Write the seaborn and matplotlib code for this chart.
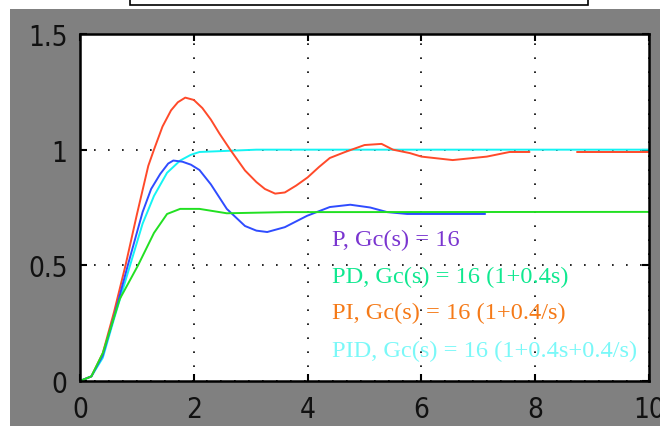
import numpy as np
import pandas as pd
import matplotlib
matplotlib.use("Agg")
import matplotlib.pyplot as plt
from matplotlib.patches import Rectangle
import seaborn as sns
from matplotlib import font_manager

# ---- data ----
p_t = [0, 0.2, 0.4, 0.6, 0.84, 1.1, 1.25, 1.41, 1.55, 1.64, 1.8, 1.95, 2.1, 2.3, 2.58, 2.9, 3.1, 3.29, 3.6, 3.99, 4.39, 4.75, 5.1, 5.4, 5.75, 7.12]
p_v = [0, 0.02, 0.11, 0.28, 0.5, 0.73, 0.83, 0.895, 0.94, 0.953, 0.948, 0.935, 0.912, 0.85, 0.744, 0.67, 0.65, 0.644, 0.665, 0.714, 0.752, 0.762, 0.75, 0.73, 0.722, 0.722]

pd_t = [0, 0.2, 0.4, 0.7, 1.02, 1.3, 1.53, 1.76, 2.1, 2.58, 3.6, 10]
pd_v = [0, 0.02, 0.12, 0.355, 0.5, 0.64, 0.722, 0.744, 0.744, 0.725, 0.73, 0.731]

pi_t = [0, 0.2, 0.4, 0.6, 0.8, 1.0, 1.2, 1.3, 1.45, 1.6, 1.72, 1.85, 2.0, 2.15, 2.3, 2.45, 2.64, 2.9, 3.1, 3.25, 3.43, 3.6, 3.8, 4.0,
        4.2, 4.39, 4.66, 5.0, 5.3, 5.5, 5.8, 6.0, 6.55, 7.15, 7.55, 7.9, 8.73, 10]
pi_v = [0, 0.02, 0.12, 0.3, 0.5, 0.72, 0.93, 1.0, 1.1, 1.17, 1.205, 1.225, 1.215, 1.18, 1.13, 1.07, 1.0, 0.91, 0.86, 0.83, 0.81, 0.815, 0.845, 0.88,
        0.925, 0.964, 0.99, 1.02, 1.025, 1.0, 0.985, 0.97, 0.955, 0.97, 0.99, 0.99, 0.988, 0.988]
pi_seg = [0] * 36 + [1] * 2

pid_t = [0, 0.2, 0.4, 0.6, 0.88, 1.1, 1.3, 1.53, 1.76, 1.95, 2.1, 2.6, 3.1, 10]
pid_v = [0, 0.02, 0.1, 0.27, 0.5, 0.68, 0.8, 0.90, 0.953, 0.978, 0.99, 0.995, 1.0, 1.0]

labels = ["P, Gc(s) = 16", "PD, Gc(s) = 16 (1+0.4s)", "PI, Gc(s) = 16 (1+0.4/s)", "PID, Gc(s) = 16 (1+0.4s+0.4/s)"]
label_colors = ["#7a35d0", "#10e890", "#f57a18", "#7af8f8"]
x_ticks = [0, 2, 4, 6, 8, 10]
y_ticks = [0, 0.5, 1, 1.5]
y_tick_labels = ["0", "0.5", "1", "1.5"]

sns.set_theme(style="white")

W, H = 660, 427
fig = plt.figure(figsize=(W / 100, H / 100), dpi=100)
fig.patch.set_facecolor("white")
# grey window background
fig.patches.append(Rectangle((10 / W, 0), 1 - 10 / W, (H - 10) / H, transform=fig.transFigure,
                             facecolor="#808080", edgecolor="none", zorder=-10))
# partial framed box at the top
fig.patches.append(Rectangle((130 / W, (H - 6) / H), (588 - 130) / W, 20 / H, transform=fig.transFigure,
                             facecolor="white", edgecolor="black", linewidth=1.2, zorder=-10))

ax = fig.add_axes([80 / W, (H - 382) / H, (649 - 80) / W, (382 - 35) / H])
ax.set_zorder(5)
ax.set_facecolor("white")

df_p = pd.DataFrame({"t": p_t, "v": p_v})
df_pd = pd.DataFrame({"t": pd_t, "v": pd_v})
df_pi = pd.DataFrame({"t": pi_t, "v": pi_v, "seg": pi_seg})
df_pid = pd.DataFrame({"t": pid_t, "v": pid_v})

lw = 1.4
sns.lineplot(data=df_pid, x="t", y="v", estimator=None, sort=False, color="#14f4f4", lw=lw, ax=ax)
sns.lineplot(data=df_pi, x="t", y="v", units="seg", estimator=None, sort=False, color="#ff4a2a", lw=lw, ax=ax)
sns.lineplot(data=df_p, x="t", y="v", estimator=None, sort=False, color="#2f4cff", lw=lw, ax=ax)
sns.lineplot(data=df_pd, x="t", y="v", estimator=None, sort=False, color="#22e022", lw=lw, ax=ax)

ax.set_xlim(0, 10)
ax.set_ylim(0, 1.5)
ax.set_xlabel("")
ax.set_ylabel("")
ax.set_xticks(x_ticks)
ax.set_yticks(y_ticks)
ax.set_yticklabels(y_tick_labels)
for lbl in ax.get_xticklabels() + ax.get_yticklabels():
    lbl.set_fontfamily("DejaVu Sans")
    lbl.set_fontstretch("condensed")
    lbl.set_fontsize(20)
    lbl.set_color("#111111")
ax.tick_params(axis="both", direction="in", length=5, width=1.5, color="black",
               top=True, right=True, bottom=True, left=True)
ax.tick_params(axis="x", pad=10)
ax.tick_params(axis="y", pad=9)

ax.grid(True, color="black", linestyle=(0, (1, 7.4)), linewidth=1.2)
for s in ax.spines.values():
    s.set_color("black")
    s.set_linewidth(1.8)
    s.set_visible(True)

text_y = [0.614, 0.45, 0.298, 0.13]
for lab, col, yy in zip(labels, label_colors, text_y):
    ax.text(4.43, yy, lab, color=col, fontsize=17.6, family="Liberation Serif", va="center", ha="left")

fig.savefig("out.png", dpi=100, facecolor=fig.get_facecolor())
